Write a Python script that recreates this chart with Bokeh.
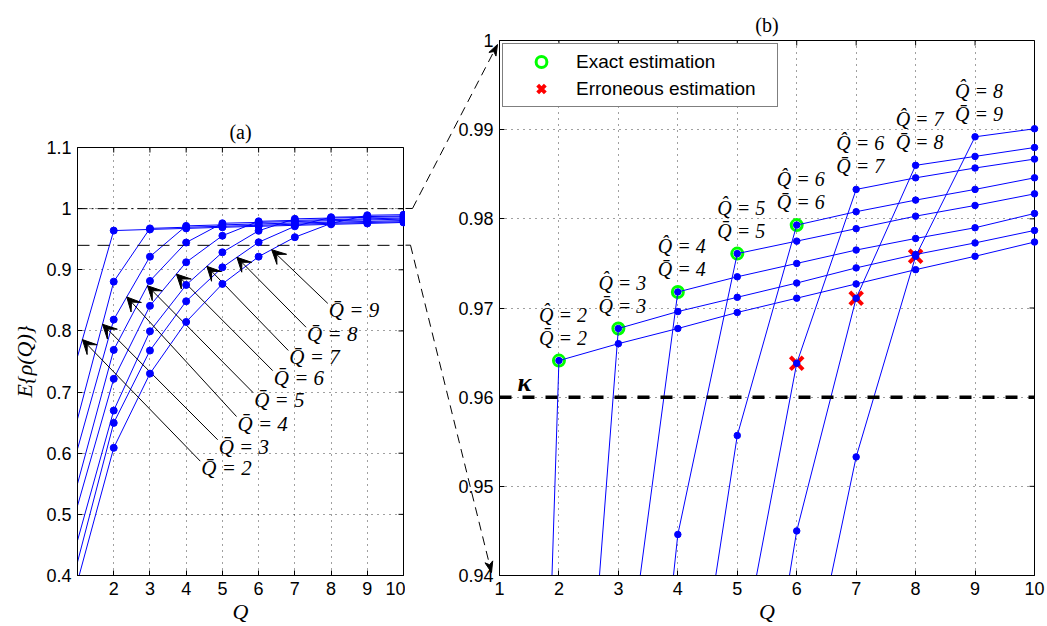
import numpy as np
from bokeh.plotting import figure
from bokeh.layouts import row, column
from bokeh.models import (Span, Arrow, VeeHead, Legend, LegendItem, FixedTicker,
                          NumeralTickFormatter, Range1d, Spacer)
from bokeh.core.properties import value
from bokeh.embed import file_html
from bokeh.resources import INLINE

# ---------------------------------------------------------------- data
# Tested number of components Q
q_values = [1, 2, 3, 4, 5, 6, 7, 8, 9, 10]
# True number of components of each curve
q_bar = [2, 3, 4, 5, 6, 7, 8, 9]

# E{rho(Q)} for each true Q-bar, indexed by Q = 1..10
rho_qbar2 = [0.758, 0.9641, 0.9660, 0.9677, 0.9695, 0.9711, 0.9727, 0.9743, 0.9758, 0.9774]
rho_qbar3 = [0.656, 0.8806, 0.9677, 0.9696, 0.9712, 0.9728, 0.9745, 0.9760, 0.9773, 0.9787]
rho_qbar4 = [0.607, 0.8185, 0.9215, 0.9718, 0.9735, 0.9750, 0.9765, 0.9778, 0.9790, 0.9806]
rho_qbar5 = [0.550, 0.7690, 0.8818, 0.9446, 0.9761, 0.9775, 0.9789, 0.9803, 0.9815, 0.9828]
rho_qbar6 = [0.514, 0.7216, 0.8410, 0.9123, 0.9557, 0.9793, 0.9808, 0.9821, 0.9833, 0.9846]
rho_qbar7 = [0.457, 0.6698, 0.7994, 0.8752, 0.9286, 0.9638, 0.9833, 0.9846, 0.9857, 0.9867]
rho_qbar8 = [0.422, 0.6496, 0.7679, 0.8485, 0.9040, 0.9450, 0.9711, 0.9860, 0.9870, 0.9880]
rho_qbar9 = [0.390, 0.6088, 0.7302, 0.8147, 0.8769, 0.9215, 0.9533, 0.9758, 0.9892, 0.9901]

# Detection threshold
kappa = 0.96

# Callout arrows of panel (a): label anchor (tail) and the Q at which each arrow hits its curve
callout_tail_x = [4.39, 4.87, 5.39, 5.85, 6.39, 6.82, 7.31, 7.91]
callout_tail_y = [0.587, 0.622, 0.660, 0.699, 0.735, 0.768, 0.806, 0.845]
callout_head_q = [1.135, 1.69, 2.36, 2.93, 3.73, 4.57, 5.40, 6.36]

curves = [rho_qbar2, rho_qbar3, rho_qbar4, rho_qbar5,
          rho_qbar6, rho_qbar7, rho_qbar8, rho_qbar9]

left_yticks = [0.4, 0.5, 0.6, 0.7, 0.8, 0.9, 1.0, 1.1]
right_yticks = [0.94, 0.95, 0.96, 0.97, 0.98, 0.99, 1.0]

# ---------------------------------------------------------------- style
SANS = "Liberation Sans"
SERIF = "Liberation Serif"
BLUE = "#0000ff"
GREEN = "#00ff00"
RED = "#ff0000"

# page geometry (pixels)
H = 626
L_OFFSET = 107                 # vertical offset of panel (a) on the page
L_W, R_W = 405, 642
L_BORDER = dict(left=77, right=2, top=40, bottom=50)
R_BORDER = dict(left=94, right=13, top=40, bottom=50)
L_YR = (0.4, 1.1)
R_YR = (0.94, 1.0)
XR = (1, 10)


def style(p, xticks, yticks, yfmt):
    p.xaxis.ticker = FixedTicker(ticks=xticks)
    p.yaxis.ticker = FixedTicker(ticks=yticks)
    p.yaxis.formatter = NumeralTickFormatter(format=yfmt)
    for ax in p.axis:
        ax.major_tick_in = 5
        ax.major_tick_out = 0
        ax.minor_tick_line_color = None
        ax.axis_line_color = "black"
        ax.major_tick_line_color = "black"
        ax.major_label_text_font = SANS
        ax.major_label_text_font_size = "18px"
        ax.major_label_text_color = "black"
        ax.major_label_standoff = 6
        ax.axis_label_text_font = SERIF
        ax.axis_label_text_font_style = "italic"
        ax.axis_label_text_font_size = "22px"
        ax.axis_label_text_color = "black"
    for g in p.grid:
        g.grid_line_color = "black"
        g.grid_line_alpha = 0.75
        g.grid_line_dash = "1 5"
    p.outline_line_color = "black"
    p.outline_line_alpha = 1.0
    p.title.text_font = SERIF
    p.title.text_font_style = "normal"
    p.title.text_font_size = "20px"
    p.title.align = "center"
    p.title.text_color = "black"
    # inward tick marks on the top and right edges of the box (half of each dash is clipped)
    ytop = p.y_range.end
    xend = p.x_range.end
    p.scatter(xticks, [ytop] * len(xticks), marker="dash", angle=np.pi / 2, size=10,
              line_color="black", line_width=1)
    p.scatter([xend] * len(yticks), yticks, marker="dash", size=10,
              line_color="black", line_width=1)


def make_fig(width, height, border, yr, title):
    return figure(width=width, height=height, x_range=Range1d(*XR), y_range=Range1d(*yr),
                  output_backend="svg", toolbar_location=None, title=title,
                  min_border_left=border["left"], min_border_right=border["right"],
                  min_border_top=border["top"], min_border_bottom=border["bottom"],
                  background_fill_color="white", border_fill_color="white")


def in_range(xs, ys, yr):
    """Points of a curve that fall inside the vertical range of a panel."""
    keep = [(x, y) for x, y in zip(xs, ys) if yr[0] <= y <= yr[1]]
    return [k[0] for k in keep], [k[1] for k in keep]


# ---------------------------------------------------------------- panel (a)
left = make_fig(L_W, H - L_OFFSET, L_BORDER, L_YR, "(a)")
left.xaxis.axis_label = "Q"
left.xaxis.axis_label_standoff = 1
left.yaxis.axis_label = "E{ρ(Q)}"
left.yaxis.axis_label_standoff = 6
style(left, q_values[1:], left_yticks, "0.[0]")

# bounds of the zoomed window shown in panel (b)
left.add_layout(Span(location=R_YR[1], dimension="width", line_color="black",
                     line_width=1, line_dash="10 4 2 4"))
left.add_layout(Span(location=R_YR[0], dimension="width", line_color="black",
                     line_width=1, line_dash="12 8"))

for c in curves:
    left.line(q_values, c, line_color=BLUE, line_width=1)
    mx, my = in_range(q_values[1:], c[1:], L_YR)
    left.scatter(mx, my, size=7, color=BLUE, level="overlay")

for tx, ty, hq, c in zip(callout_tail_x, callout_tail_y, callout_head_q, curves):
    hy = float(np.interp(hq, q_values, c))
    left.add_layout(Arrow(end=VeeHead(size=14, fill_color="black", line_color="black",
                                      line_width=1),
                          x_start=tx, y_start=ty, x_end=hq, y_end=hy,
                          line_color="black", line_width=1))

left.text(x=callout_tail_x, y=callout_tail_y,
          text=[f"Q\u0304 = {k}" for k in q_bar],
          text_font=value(SERIF), text_font_style="italic", text_font_size="21px",
          text_align="left", text_baseline="middle", x_offset=1, y_offset=7,
          text_color="black")

# ---------------------------------------------------------------- panel (b)
right = make_fig(R_W, H, R_BORDER, R_YR, "(b)")
right.xaxis.axis_label = "Q"
right.xaxis.axis_label_standoff = 1
style(right, q_values, right_yticks, "0.[00]")

# estimated number of components: first Q whose E{rho(Q)} exceeds kappa
q_hat = [q_values[int(np.argmax(np.array(c) > kappa))] for c in curves]
rho_at_hat = [c[q_values.index(h)] for c, h in zip(curves, q_hat)]
ok = [h == t for h, t in zip(q_hat, q_bar)]

exact = right.scatter([h for h, o in zip(q_hat, ok) if o],
                      [v for v, o in zip(rho_at_hat, ok) if o],
                      marker="circle", size=11, fill_color=None,
                      line_color=GREEN, line_width=3)
wrong = right.scatter([h for h, o in zip(q_hat, ok) if not o],
                      [v for v, o in zip(rho_at_hat, ok) if not o],
                      marker="x", size=18, line_color=RED, line_width=4)

for c in curves:
    right.line(q_values, c, line_color=BLUE, line_width=1)
    mx, my = in_range(q_values[1:], c[1:], R_YR)
    right.scatter(mx, my, size=6.5, color=BLUE, level="overlay")

right.add_layout(Span(location=kappa, dimension="width", line_color="black",
                      line_width=3.5, line_dash="12 11"))
right.text(x=[1.42], y=[kappa], text=["κ"], text_font=value(SERIF),
           text_font_style="bold italic", text_font_size="26px",
           text_align="center", text_baseline="middle", y_offset=-15,
           text_color="black")

# labels above the peak of every curve
peak = [c[q_values.index(t)] for c, t in zip(curves, q_bar)]
right.text(x=q_bar, y=peak, text=[f"Q\u0302 = {h}" for h in q_hat],
           text_font=value(SERIF), text_font_style="italic", text_font_size="20px",
           text_align="center", text_baseline="middle", x_offset=4, y_offset=-46,
           text_color="black")
right.text(x=q_bar, y=peak, text=[f"Q\u0304 = {t}" for t in q_bar],
           text_font=value(SERIF), text_font_style="italic", text_font_size="20px",
           text_align="center", text_baseline="middle", x_offset=4, y_offset=-23,
           text_color="black")

legend = Legend(items=[LegendItem(label="Exact estimation", renderers=[exact]),
                       LegendItem(label="Erroneous estimation", renderers=[wrong])],
                location="top_left", margin=3, padding=4, spacing=0,
                glyph_width=68, glyph_height=27, label_height=20, label_standoff=1,
                label_width=197,
                label_text_font=SANS, label_text_font_size="19px",
                label_text_color="black", border_line_color="black",
                border_line_width=1.5, background_fill_color="white",
                background_fill_alpha=1.0)
right.add_layout(legend)

# ---------------------------------------------------------------- zoom connectors
# page-pixel geometry of the two frames
l_top = L_OFFSET + L_BORDER["top"]
l_h = H - L_OFFSET - L_BORDER["top"] - L_BORDER["bottom"]
l_right = L_W - L_BORDER["right"]
r_left = L_W + R_BORDER["left"]
r_top = R_BORDER["top"]
r_h = H - R_BORDER["top"] - R_BORDER["bottom"]
r_wpx = R_W - R_BORDER["left"] - R_BORDER["right"]


def left_py(v):
    return l_top + (L_YR[1] - v) / (L_YR[1] - L_YR[0]) * l_h


def to_right(px, py):
    x = XR[0] + (px - r_left) / r_wpx * (XR[1] - XR[0])
    y = R_YR[1] - (py - r_top) / r_h * (R_YR[1] - R_YR[0])
    return x, y


def connector(y_page, x_bend, tip, dash_h):
    """Horizontal stub, dashed diagonal and a filled head, drawn over the border."""
    p0 = to_right(L_W, y_page)
    p1 = to_right(x_bend, y_page)
    right.line([p0[0], p1[0]], [p0[1], p1[1]], line_color="black", line_width=1,
               line_dash=dash_h, level="overlay")
    # head geometry in page pixels
    d = np.array(tip, float) - np.array([x_bend, y_page], float)
    u = d / np.hypot(*d)
    n = np.array([-u[1], u[0]])
    t = np.array(tip, float)
    back = t - u * 11
    pts = [t, back + n * 4, t - u * 8, back - n * 4]
    shaft_end = to_right(*(t - u * 8))
    right.line([p1[0], shaft_end[0]], [p1[1], shaft_end[1]], line_color="black",
               line_width=1, line_dash="9 6", level="overlay")
    hx, hy = zip(*[to_right(*q) for q in pts])
    right.patch(list(hx), list(hy), fill_color="black", line_color="black",
                line_width=1, level="overlay")


connector(left_py(R_YR[1]), l_right + 9, (r_left - 2, r_top + 4), "10 4 2 4")
connector(left_py(R_YR[0]), l_right + 7, (r_left - 8, r_top + r_h - 3), "12 8")

layout = row(column(Spacer(width=L_W, height=L_OFFSET), left), right)
open("out.html", "w").write(file_html(layout, INLINE))
